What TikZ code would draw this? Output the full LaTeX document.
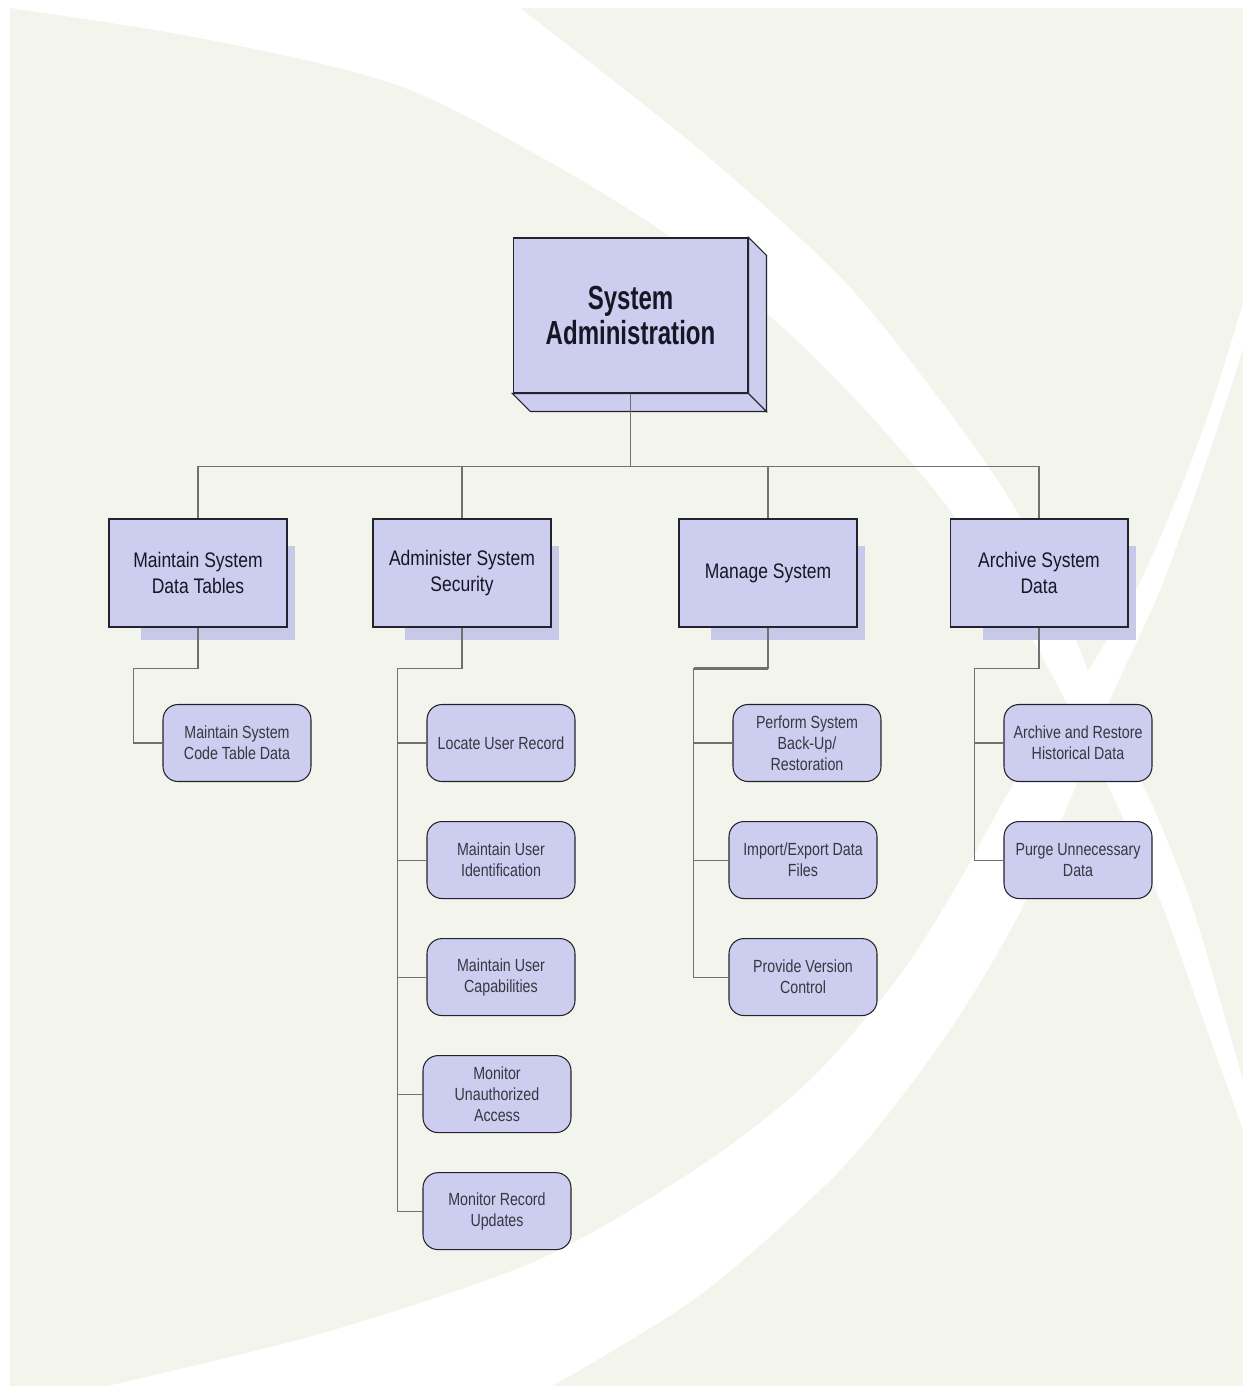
\documentclass[tikz,border=0pt]{standalone}
\usepackage{fontspec}
\usepackage{xcolor}
\usepackage{tikz}
\usetikzlibrary{positioning}
\setmainfont{Liberation Sans}
\newfontfamily\headfont[FakeStretch=0.72]{Liberation Sans}
\newfontfamily\groupfont[FakeStretch=0.83]{Liberation Sans}
\newfontfamily\taskfont[FakeStretch=0.81]{Liberation Sans}
\definecolor{paper}{RGB}{243,244,236}
\definecolor{boxfill}{RGB}{205,205,239}
\definecolor{shadowfill}{RGB}{200,200,233}
\definecolor{edge}{RGB}{35,35,45}
\definecolor{wire}{RGB}{112,112,112}
\definecolor{ink}{RGB}{22,22,36}
\definecolor{softink}{RGB}{55,55,66}
\pgfdeclarelayer{back}
\pgfsetlayers{back,main}

\begin{document}
\begin{tikzpicture}[x=0.02cm, y=-0.02cm, node distance=0.78cm,
    rootbox/.style={rectangle, draw=edge, fill=boxfill, line width=0.6pt, minimum width=4.7cm, minimum height=3.1cm, align=center, text=ink, font=\headfont\bfseries\fontsize{19}{20}\selectfont},
    groupbox/.style={rectangle, draw=edge, fill=boxfill, line width=0.6pt, minimum width=3.56cm, minimum height=2.16cm, align=center, text=ink, font=\groupfont\fontsize{12}{14.7}\selectfont},
    taskbox/.style={rectangle, rounded corners=0.3cm, draw=edge, fill=boxfill, line width=0.6pt, minimum width=2.96cm, minimum height=1.54cm, inner sep=1pt, align=center, text=softink, font=\taskfont\fontsize{10}{11.9}\selectfont},
    link/.style={draw=wire, line width=0.6pt}]
    \useasboundingbox (0,0) rectangle (1243,1390);

    % background with the two white sweeps
    \begin{pgfonlayer}{back}
    \fill[paper] (10,8) rectangle (1243,1386);
    \fill[white] plot[smooth] coordinates {(10,8) (200,38) (397,85) (555,165) (675,240) (780,325) (870,415) (950,510) (1010,600) (1060,690) (1110,790) (1160,900) (1200,1010) (1243,1130)}
        -- (1260,1130) -- (1260,1080)
        -- plot[smooth] coordinates {(1243,1080) (1220,1000) (1190,900) (1150,800) (1100,700) (1060,600) (1010,500) (940,400) (843,280) (700,150) (520,8)} -- cycle;
    \fill[white] plot[smooth] coordinates {(1250,280) (1213,400) (1180,490) (1136,590) (1076,690) (1010,790) (960,880) (900,975) (810,1080) (699,1167) (538,1260) (323,1333) (90,1390)}
        -- (90,1400) -- (545,1400)
        -- plot[smooth] coordinates {(545,1390) (700,1295) (843,1167) (943,1040) (1016,920) (1070,800) (1110,700) (1160,590) (1200,480) (1230,390) (1255,310)}
        -- (1260,310) -- (1260,280) -- cycle;
    \end{pgfonlayer}

    \node (sysadmin) [rootbox] at (630.5,315.5) {System\\Administration};
    \filldraw[fill=boxfill, draw=edge, line width=0.6pt] (sysadmin.north east) -- ++(18,18) -- ([shift={(18,18)}]sysadmin.south east) -- (sysadmin.south east) -- cycle;
    \filldraw[fill=boxfill, draw=edge, line width=0.6pt] (sysadmin.south west) -- (sysadmin.south east) -- ++(18,18) -- ([shift={(18,18)}]sysadmin.south west) -- cycle;

    \node (tables) [groupbox] at (198,573) {Maintain System\\Data Tables};
    \node (security) [groupbox] at (462,573) {Administer System\\Security};
    \node (manage) [groupbox] at (768,573) {Manage System};
    \node (archive) [groupbox] at (1039,573) {Archive System\\Data};

    % drop shadows
    \begin{pgfonlayer}{back}
    \fill[shadowfill] ([shift={(33,28)}]tables.north west) rectangle ([shift={(7,12)}]tables.south east);
    \fill[shadowfill] ([shift={(33,28)}]security.north west) rectangle ([shift={(7,12)}]security.south east);
    \fill[shadowfill] ([shift={(33,28)}]manage.north west) rectangle ([shift={(7,12)}]manage.south east);
    \fill[shadowfill] ([shift={(33,28)}]archive.north west) rectangle ([shift={(7,12)}]archive.south east);
    \end{pgfonlayer}

    \node (codetable) [taskbox] at (237,743) {Maintain System\\Code Table Data};

    \node (locate) [taskbox] at (501,743) {Locate User Record};
    \node (userid) [taskbox, below=of locate] {Maintain User\\Identification};
    \node (usercap) [taskbox, below=of userid] {Maintain User\\Capabilities};
    \node (unauth) [taskbox, below=of usercap, xshift=-0.08cm] {Monitor\\Unauthorized\\Access};
    \node (updates) [taskbox, below=of unauth] {Monitor Record\\Updates};

    \node (backup) [taskbox] at (807,743) {Perform System\\Back-Up/\\Restoration};
    \node (transfer) [taskbox, below=of backup, xshift=-0.08cm] {Import/Export Data\\Files};
    \node (version) [taskbox, below=of transfer] {Provide Version\\Control};

    \node (restore) [taskbox] at (1078,743) {Archive and Restore\\Historical Data};
    \node (purge) [taskbox, below=of restore] {Purge Unnecessary\\Data};

    \draw[link] (sysadmin.south) -- ++(0,73) -| (tables.north);
    \draw[link] (sysadmin.south) -- ++(0,73) -| (security.north);
    \draw[link] (sysadmin.south) -- ++(0,73) -| (manage.north);
    \draw[link] (sysadmin.south) -- ++(0,73) -| (archive.north);

    \draw[link] (tables.south) -- ++(0,41) -| ([xshift=-0.58cm]codetable.west) -- (codetable.west);

    \draw[link] (security.south) -- ++(0,41) -| ([xshift=-0.58cm]locate.west) -- (locate.west);
    \draw[link] (security.south) -- ++(0,41) -| ([xshift=-0.58cm]userid.west) -- (userid.west);
    \draw[link] (security.south) -- ++(0,41) -| ([xshift=-0.58cm]usercap.west) -- (usercap.west);
    \draw[link] (security.south) -- ++(0,41) -| ([xshift=-0.5cm]unauth.west) -- (unauth.west);
    \draw[link] (security.south) -- ++(0,41) -| ([xshift=-0.5cm]updates.west) -- (updates.west);

    \draw[link, line width=1.2pt] (manage.south) ++(0,41) -- ++(-74,0);
    \draw[link] (manage.south) -- ++(0,41) -| ([xshift=-0.78cm]backup.west) -- (backup.west);
    \draw[link] (manage.south) -- ++(0,41) -| ([xshift=-0.7cm]transfer.west) -- (transfer.west);
    \draw[link] (manage.south) -- ++(0,41) -| ([xshift=-0.7cm]version.west) -- (version.west);

    \draw[link] (archive.south) -- ++(0,41) -| ([xshift=-0.58cm]restore.west) -- (restore.west);
    \draw[link] (archive.south) -- ++(0,41) -| ([xshift=-0.58cm]purge.west) -- (purge.west);
\end{tikzpicture}
\end{document}
